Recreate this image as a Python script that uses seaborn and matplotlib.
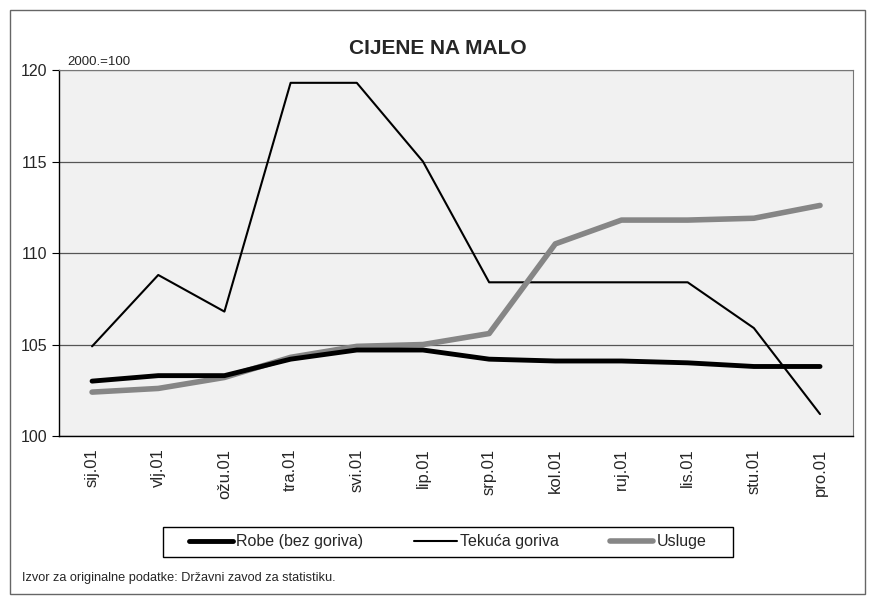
import matplotlib
matplotlib.use("Agg")
import matplotlib.pyplot as plt
from matplotlib.patches import Rectangle
import seaborn as sns
import pandas as pd

months = ["sij.01", "vlj.01", "ožu.01", "tra.01", "svi.01", "lip.01",
          "srp.01", "kol.01", "ruj.01", "lis.01", "stu.01", "pro.01"]
robe = [103.0, 103.3, 103.3, 104.2, 104.7, 104.7, 104.2, 104.1, 104.1, 104.0, 103.8, 103.8]
goriva = [104.9, 108.8, 106.8, 119.3, 119.3, 115.0, 108.4, 108.4, 108.4, 108.4, 105.9, 101.2]
usluge = [102.4, 102.6, 103.2, 104.3, 104.9, 105.0, 105.6, 110.5, 111.8, 111.8, 111.9, 112.6]
series_names = ["Robe (bez goriva)", "Tekuća goriva", "Usluge"]

sns.set_style("white")
plt.rcParams["font.family"] = ["Liberation Sans", "DejaVu Sans"]

df = pd.DataFrame({"mjesec": months * 3,
                   "indeks": robe + goriva + usluge,
                   "serija": [s for s in series_names for _ in months]})

fig = plt.figure(figsize=(8.75, 6.02), dpi=100)
ax = fig.add_axes([0.0674, 0.2757, 0.9076, 0.608])
ax.set_facecolor("#f1f1f1")

# draw order: goriva first so thick lines sit on top
styles = {"Tekuća goriva": ("black", 1.5),
          "Usluge": ("#868686", 4.0),
          "Robe (bez goriva)": ("black", 3.5)}
for name in ["Tekuća goriva", "Usluge", "Robe (bez goriva)"]:
    col, lw = styles[name]
    sns.lineplot(data=df[df.serija == name], x="mjesec", y="indeks", sort=False,
                 color=col, linewidth=lw, label=name, ax=ax, zorder=3)

ax.set_ylim(100, 120)
ax.set_yticks([100, 105, 110, 115, 120])
ax.set_xlim(-0.5, len(months) - 0.5)
ax.yaxis.grid(True, color="#555555", linewidth=0.9)
ax.set_axisbelow(True)
ax.set_xlabel("")
ax.set_ylabel("")
ax.set_xticks(range(len(months)))
ax.set_xticklabels(months, rotation=90, fontsize=12)
ax.set_xticks([i - 0.5 for i in range(len(months) + 1)], minor=True)
ax.tick_params(axis="x", which="major", length=0, pad=9)
ax.tick_params(axis="x", which="minor", length=5, direction="out", color="black")
ax.tick_params(axis="y", length=5, direction="out", labelsize=11.5, left=True, color="black")
for side in ["left", "bottom"]:
    ax.spines[side].set_color("black")
    ax.spines[side].set_linewidth(1.0)
for side in ["top", "right"]:
    ax.spines[side].set_color("#777777")
    ax.spines[side].set_linewidth(0.8)

fig.text(0.5, 0.92, "CIJENE NA MALO", fontsize=15, fontweight="bold",
         ha="center", va="center")
fig.text(0.077, 0.892, "2000.=100", fontsize=9.5)

handles, labels = ax.get_legend_handles_labels()
order = [labels.index(n) for n in series_names]
ax.legend([handles[i] for i in order], series_names, loc="center",
          bbox_to_anchor=(0.512, 0.0997), bbox_transform=fig.transFigure,
          ncol=3, frameon=False, handlelength=2.7, columnspacing=3.2,
          fontsize=11.5, handletextpad=0.2)
# legend box drawn separately: wider side padding than the legend frame allows
fig.patches.append(Rectangle((0.1863, 0.0748), 0.6514, 0.0498, transform=fig.transFigure,
                             fill=False, edgecolor="black", linewidth=1.0))

fig.text(0.025, 0.035, "Izvor za originalne podatke: Državni zavod za statistiku.", fontsize=9.2)
fig.patches.append(Rectangle((0.011, 0.013), 0.978, 0.97, transform=fig.transFigure,
                             fill=False, edgecolor="#666666", linewidth=1.0))

fig.savefig("out.png", dpi=100)
